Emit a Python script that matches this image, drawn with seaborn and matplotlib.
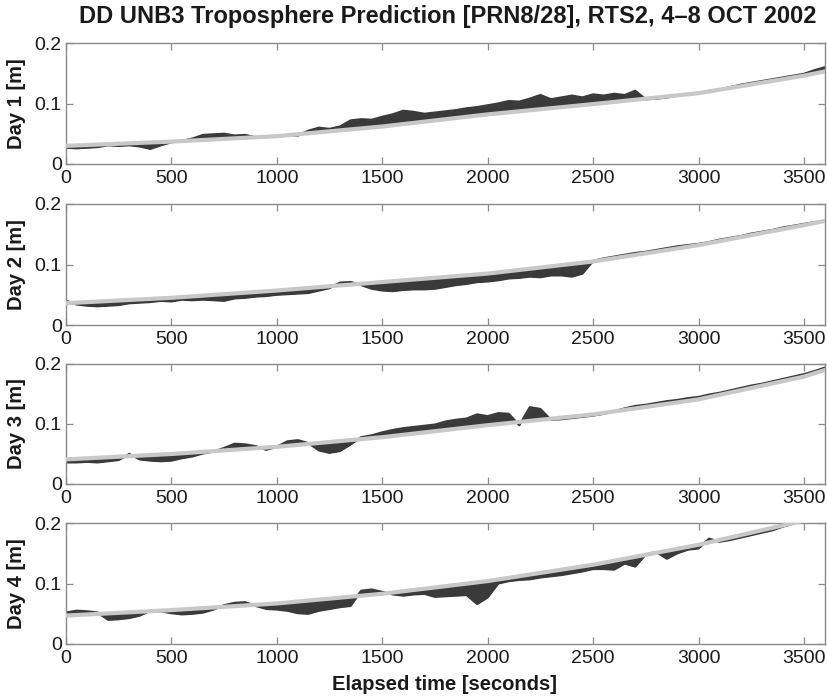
import matplotlib
matplotlib.use("Agg")
import matplotlib.pyplot as plt
import seaborn as sns

# Elapsed time grid [s]
elapsed = list(range(0, 3601, 50))

# UNB3 predicted DD troposphere delay [m] per day
pred_day1 = [
    .0300, .0307, .0314, .0321, .0328, .0335, .0342, .0349, .0356, .0363, .0370,
    .0379, .0388, .0397, .0406, .0415, .0424, .0433, .0442, .0451, .0460,
    .0476, .0492, .0508, .0524, .0540, .0556, .0572, .0588, .0604, .0620,
    .0640, .0660, .0680, .0700, .0720, .0740, .0760, .0780, .0800, .0820,
    .0837, .0854, .0871, .0888, .0905, .0922, .0939, .0956, .0973, .0990,
    .1008, .1026, .1044, .1062, .1080, .1098, .1116, .1134, .1152, .1170,
    .1199, .1228, .1257, .1286, .1315, .1344, .1373, .1402, .1431, .1460,
    .1495, .1530]
pred_day2 = [
    .0360, .0369, .0378, .0387, .0396, .0405, .0414, .0423, .0432, .0441, .0450,
    .0462, .0474, .0486, .0498, .0510, .0522, .0534, .0546, .0558, .0570,
    .0584, .0598, .0612, .0626, .0640, .0654, .0668, .0682, .0696, .0710,
    .0724, .0738, .0752, .0766, .0780, .0794, .0808, .0822, .0836, .0850,
    .0870, .0890, .0910, .0930, .0950, .0970, .0990, .1010, .1030, .1050,
    .1077, .1104, .1131, .1158, .1185, .1212, .1239, .1266, .1293, .1320,
    .1353, .1386, .1419, .1452, .1485, .1518, .1551, .1584, .1617, .1650,
    .1685, .1720]
pred_day3 = [
    .0410, .0419, .0428, .0437, .0446, .0455, .0464, .0473, .0482, .0491, .0500,
    .0512, .0524, .0536, .0548, .0560, .0572, .0584, .0596, .0608, .0620,
    .0636, .0652, .0668, .0684, .0700, .0716, .0732, .0748, .0764, .0780,
    .0800, .0820, .0840, .0860, .0880, .0900, .0920, .0940, .0960, .0980,
    .0998, .1016, .1034, .1052, .1070, .1088, .1106, .1124, .1142, .1160,
    .1185, .1210, .1235, .1260, .1285, .1310, .1335, .1360, .1385, .1410,
    .1448, .1486, .1524, .1562, .1600, .1638, .1676, .1714, .1752, .1790,
    .1845, .1900]
pred_day4 = [
    .0470, .0479, .0488, .0497, .0506, .0515, .0524, .0533, .0542, .0551, .0560,
    .0571, .0582, .0593, .0604, .0615, .0626, .0637, .0648, .0659, .0670,
    .0686, .0702, .0718, .0734, .0750, .0766, .0782, .0798, .0814, .0830,
    .0851, .0872, .0893, .0914, .0935, .0956, .0977, .0998, .1019, .1040,
    .1067, .1094, .1121, .1148, .1175, .1202, .1229, .1256, .1283, .1310,
    .1343, .1376, .1409, .1442, .1475, .1508, .1541, .1574, .1607, .1640,
    .1680, .1720, .1760, .1800, .1840, .1880, .1920, .1960, .2000, .2040,
    .2085, .2130]

# Estimated DD troposphere delay [m] per day
est_day1 = [
    .027, .026, .027, .028, .031, .030, .031, .029, .025, .031, .036,
    .038, .042, .048, .049, .050, .047, .048, .044, .045, .046,
    .048, .047, .055, .060, .058, .062, .072, .074, .073, .078,
    .082, .088, .086, .083, .085, .087, .089, .092, .094, .097,
    .100, .104, .103, .108, .114, .107, .110, .113, .110, .115,
    .113, .116, .114, .121, .107, .108, .110, .113, .115, .117,
    .121, .123, .127, .131, .134, .137, .140, .143, .146, .149,
    .155, .160]
est_day2 = [
    .040, .034, .032, .031, .032, .033, .036, .037, .038, .040, .039,
    .042, .041, .042, .041, .040, .044, .045, .047, .048, .050,
    .051, .052, .053, .057, .061, .070, .071, .066, .060, .057,
    .056, .058, .059, .059, .060, .063, .066, .068, .071, .072,
    .074, .077, .078, .080, .079, .082, .082, .080, .085, .106,
    .110, .113, .116, .119, .121, .124, .127, .130, .132, .134,
    .137, .141, .144, .147, .151, .154, .157, .161, .164, .167,
    .170, .172]
est_day3 = [
    .036, .036, .037, .036, .038, .040, .050, .041, .039, .038, .039,
    .043, .046, .051, .054, .060, .067, .066, .063, .057, .062,
    .071, .073, .068, .056, .052, .055, .066, .078, .081, .086,
    .090, .093, .095, .097, .099, .104, .107, .109, .116, .113,
    .118, .117, .098, .128, .125, .107, .108, .110, .112, .114,
    .117, .121, .126, .130, .132, .135, .138, .140, .143, .145,
    .149, .152, .156, .160, .164, .167, .171, .175, .179, .183,
    .188, .194]
est_day4 = [
    .052, .055, .054, .052, .040, .041, .043, .047, .055, .054, .051,
    .049, .050, .052, .057, .064, .068, .069, .063, .058, .057,
    .055, .051, .050, .055, .058, .061, .063, .088, .090, .086,
    .082, .080, .082, .083, .078, .079, .080, .081, .066, .077,
    .100, .104, .106, .107, .110, .112, .114, .117, .120, .124,
    .124, .123, .133, .128, .148, .152, .141, .150, .156, .158,
    .174, .169, .172, .176, .180, .184, .188, .194, .199, .205,
    .210, .215]

days = ["Day 1 [m]", "Day 2 [m]", "Day 3 [m]", "Day 4 [m]"]
x_ticks = [0, 500, 1000, 1500, 2000, 2500, 3000, 3500]
y_ticks = [0, 0.1, 0.2]
y_tick_labels = ["0", "0.1", "0.2"]

sns.set_theme(style="white")
plt.rcParams["font.family"] = ["Liberation Sans", "DejaVu Sans"]

W, H = 827, 697
fig = plt.figure(figsize=(W / 100, H / 100), dpi=100)

# panel frames in pixels: (left, top, right, bottom)
frames = [(66, 43, 825, 164), (66, 204, 825, 325),
          (66, 364, 825, 484), (66, 523, 825, 644)]

dark = "#3a3a3a"
light = "#c8c8c8"
edge = "#8a8a8a"
text_col = "#1a1a1a"

series = [(pred_day1, est_day1), (pred_day2, est_day2),
          (pred_day3, est_day3), (pred_day4, est_day4)]

for (l, t, r, b), (pred, est), label in zip(frames, series, days):
    ax = fig.add_axes([l / W, 1 - b / H, (r - l) / W, (b - t) / H])
    ax.fill_between(elapsed, pred, est, color=dark, lw=0, zorder=1)
    sns.lineplot(x=elapsed, y=est, ax=ax, color=dark, lw=1.6, zorder=2)
    sns.lineplot(x=elapsed, y=pred, ax=ax, color=light, lw=3, zorder=3)
    ax.set_xlim(0, 3600)
    ax.set_ylim(0, 0.2)
    ax.set_xticks(x_ticks)
    ax.set_xticklabels([str(v) for v in x_ticks])
    ax.set_yticks(y_ticks)
    ax.set_yticklabels(y_tick_labels)
    ax.tick_params(direction="in", top=True, right=True, bottom=True, left=True,
                   length=5, width=0.9, color=edge, labelsize=14,
                   labelcolor=text_col)
    ax.tick_params(axis="x", pad=4.5)
    ax.tick_params(axis="y", pad=3)
    for s in ax.spines.values():
        s.set_color(edge)
        s.set_linewidth(1.0)
    ax.set_xlabel("")
    ax.set_ylabel(label, fontsize=14.5, fontweight="bold", color=text_col)
    # anchor is the right edge of the rotated label
    ax.yaxis.set_label_coords((26 - l) / (r - l), 0.5)

fig.text(448 / W, 1 - 17 / H,
         "DD UNB3 Troposphere Prediction [PRN8/28], RTS2, 4\u20138 OCT 2002",
         ha="center", va="center", fontsize=17, fontweight="bold",
         color=text_col)
fig.text(445 / W, 1 - 685 / H, "Elapsed time [seconds]", ha="center",
         va="center", fontsize=14.5, fontweight="bold", color=text_col)

fig.savefig("out.png", dpi=100)
